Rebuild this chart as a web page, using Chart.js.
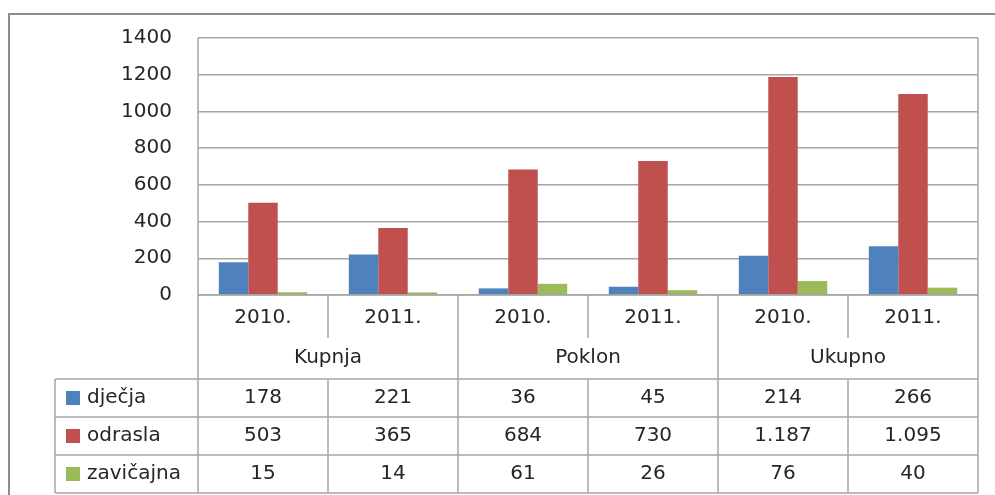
<!DOCTYPE html>
<html>
<head>
<meta charset="utf-8">
<script src="https://cdn.jsdelivr.net/npm/chart.js@4.4.0/dist/chart.umd.min.js"></script>
<style>
  html, body { margin: 0; padding: 0; background: #fff; }
  #wrap { width: 995px; height: 495px; }
</style>
</head>
<body>
<div id="wrap"><canvas id="chart" width="995" height="495"></canvas></div>
<script>
const years = ['2010.', '2011.', '2010.', '2011.', '2010.', '2011.'];
const groups = ['Kupnja', 'Poklon', 'Ukupno'];
const seriesNames = ['dječja', 'odrasla', 'zavičajna'];
const djecja = [178, 221, 36, 45, 214, 266];
const odrasla = [503, 365, 684, 730, 1187, 1095];
const zavicajna = [15, 14, 61, 26, 76, 40];
const yTicks = [0, 200, 400, 600, 800, 1000, 1200, 1400];

const colors = ['#4f81bd', '#c0504d', '#9bbb59'];
const lineColor = '#a6a6a6';
const textColor = '#262626';
const font = '20px "DejaVu Sans"';

function fmt(v) {
    return String(v).replace(/\B(?=(\d{3})+(?!\d))/g, '.');
}

// frame around the whole chart
const framePlugin = {
    id: 'frame',
    beforeDraw(chart) {
        const ctx = chart.ctx;
        ctx.save();
        ctx.fillStyle = '#fff';
        ctx.fillRect(0, 0, chart.width, chart.height);
        ctx.strokeStyle = '#8c8c8c';
        ctx.lineWidth = 2;
        ctx.beginPath();
        ctx.moveTo(9, chart.height + 5);
        ctx.lineTo(9, 14);
        ctx.lineTo(chart.width + 5, 14);
        ctx.stroke();
        ctx.restore();
    }
};

// data table under the plot
const tablePlugin = {
    id: 'dataTable',
    afterDraw(chart) {
        const ctx = chart.ctx;
        const area = chart.chartArea;
        const x = chart.scales.x;
        const n = years.length;
        const w = (area.right - area.left) / n;
        const top = area.bottom;
        const yearBottom = top + 43;
        const headBottom = top + 84;
        const rowH = 38;
        const bottom = headBottom + rowH * 3;
        const legendLeft = 55;

        ctx.save();
        ctx.strokeStyle = lineColor;
        ctx.lineWidth = 1.5;
        ctx.beginPath();
        // horizontal lines
        ctx.moveTo(area.left, top); ctx.lineTo(area.right, top);
        for (let r = 0; r <= 3; r++) {
            const yy = headBottom + r * rowH;
            ctx.moveTo(legendLeft, yy); ctx.lineTo(area.right, yy);
        }
        // outer verticals
        ctx.moveTo(area.left, area.top); ctx.lineTo(area.left, bottom);
        ctx.moveTo(area.right, area.top); ctx.lineTo(area.right, bottom);
        ctx.moveTo(legendLeft, headBottom); ctx.lineTo(legendLeft, bottom);
        // inner verticals
        for (let i = 1; i < n; i++) {
            const xx = area.left + i * w;
            if (i % 2 === 0) {
                ctx.moveTo(xx, top); ctx.lineTo(xx, bottom);
            } else {
                ctx.moveTo(xx, top); ctx.lineTo(xx, yearBottom);
                ctx.moveTo(xx, headBottom); ctx.lineTo(xx, bottom);
            }
        }
        ctx.stroke();

        ctx.fillStyle = textColor;
        ctx.font = font;
        ctx.textAlign = 'center';
        ctx.textBaseline = 'middle';
        years.forEach((label, i) => {
            ctx.fillText(label, x.getPixelForValue(i), top + 23);
        });
        groups.forEach((g, j) => {
            const cx = (x.getPixelForValue(j * 2) + x.getPixelForValue(j * 2 + 1)) / 2;
            ctx.fillText(g, cx, top + 63);
        });

        const datasets = chart.data.datasets;
        datasets.forEach((ds, r) => {
            const cy = headBottom + r * rowH + rowH / 2;
            ctx.fillStyle = ds.backgroundColor;
            ctx.fillRect(legendLeft + 11, cy - 7, 14, 14);
            ctx.fillStyle = textColor;
            ctx.textAlign = 'left';
            ctx.fillText(ds.label, legendLeft + 32, cy);
            ctx.textAlign = 'center';
            ds.data.forEach((v, i) => {
                ctx.fillText(fmt(v), x.getPixelForValue(i), cy);
            });
        });
        ctx.restore();
    }
};

const ctx = document.getElementById('chart').getContext('2d');
new Chart(ctx, {
    type: 'bar',
    data: {
        labels: years,
        datasets: [
            { label: seriesNames[0], data: djecja, backgroundColor: colors[0] },
            { label: seriesNames[1], data: odrasla, backgroundColor: colors[1] },
            { label: seriesNames[2], data: zavicajna, backgroundColor: colors[2] },
        ],
    },
    options: {
        responsive: false,
        animation: false,
        datasets: {
            bar: { barPercentage: 1, categoryPercentage: 0.68 }
        },
        layout: { padding: { top: 38, right: 17, bottom: 200, left: 0 } },
        plugins: {
            legend: { display: false },
            tooltip: { enabled: false },
        },
        scales: {
            x: { display: false },
            y: {
                min: 0,
                max: 1400,
                afterBuildTicks(scale) {
                    scale.ticks = yTicks.map((v) => ({ value: v }));
                },
                afterFit(scale) {
                    scale.width = 198;
                },
                ticks: {
                    color: textColor,
                    font: { family: 'DejaVu Sans', size: 20 },
                    padding: 26,
                    callback: (v) => String(v),
                },
                grid: { color: lineColor, lineWidth: 1.5, drawTicks: false },
                border: { display: false },
            },
        },
    },
    plugins: [framePlugin, tablePlugin],
});
</script>
</body>
</html>
